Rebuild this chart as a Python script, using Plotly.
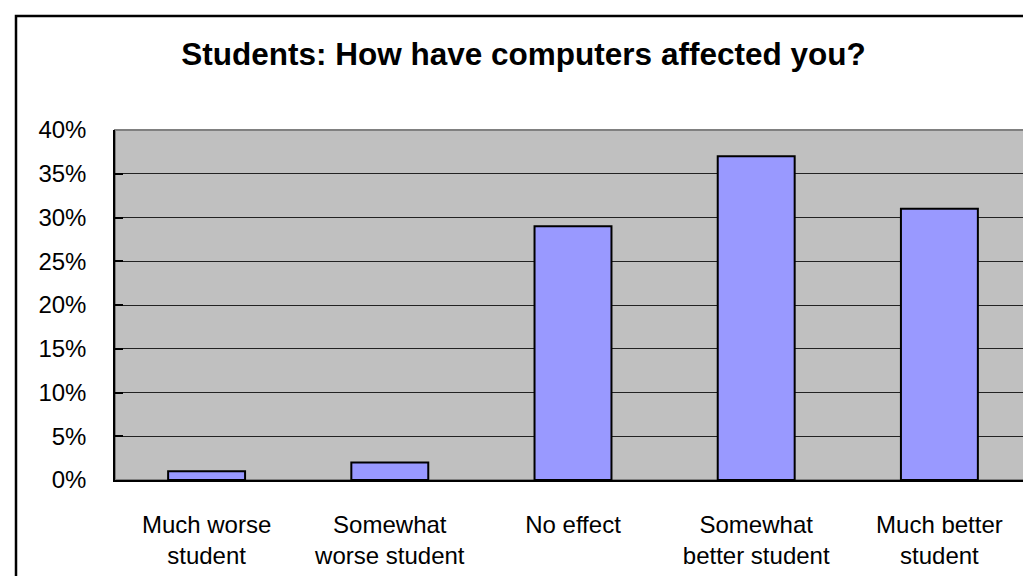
import plotly.graph_objects as go

categories = ["Much worse<br>student", "Somewhat<br>worse student", "No effect",
              "Somewhat<br>better student", "Much better<br>student"]
values = [0.01, 0.02, 0.29, 0.37, 0.31]
tick_vals = [0, 0.05, 0.10, 0.15, 0.20, 0.25, 0.30, 0.35, 0.40]
tick_text = ["0%", "5%", "10%", "15%", "20%", "25%", "30%", "35%", "40%"]
title_text = "Students: How have computers affected you?"

FONT = "Liberation Sans, Arial, sans-serif"

fig = go.Figure()
fig.add_trace(go.Bar(
    x=categories, y=values,
    marker=dict(color="#9999FF", line=dict(color="#000000", width=2)),
    hoverinfo="skip",
))

L, R, T, B = 107, 8, 122, 104
W, H = 1031, 576
pw, ph = W - L - R, H - T - B

fig.update_layout(
    width=W, height=H,
    margin=dict(l=L, r=R, t=T, b=B, pad=0),
    paper_bgcolor="white",
    plot_bgcolor="#C0C0C0",
    bargap=0.58,
    showlegend=False,
    font=dict(family=FONT, color="black", size=24),
    title=dict(text="<b>" + title_text + "</b>", x=0.5, xref="container",
               xanchor="center", y=1 - 46 / H, yanchor="middle",
               font=dict(family=FONT, size=31.5, color="black")),
    xaxis=dict(showgrid=False, showline=True, linecolor="black", linewidth=1.5,
               ticks="", tickfont=dict(size=24), ticklabelstandoff=22,
               fixedrange=True),
    yaxis=dict(range=[0, 0.40], tickvals=tick_vals, ticktext=tick_text,
               showgrid=True, gridcolor="#222222", gridwidth=1,
               showline=True, linecolor="black", linewidth=1.5,
               ticks="inside", ticklen=8, tickcolor="black", tickwidth=1.5,
               tickfont=dict(size=24), ticklabelstandoff=22,
               zeroline=False, fixedrange=True),
    shapes=[
        # gray plot-area frame (top/right)
        dict(type="rect", xref="paper", yref="paper", x0=0, x1=1, y0=0, y1=1,
             line=dict(color="#808080", width=2), layer="below"),
        # outer chart border
        dict(type="rect", xref="paper", yref="paper",
             x0=(8 - L) / pw, x1=(W + 10 - L) / pw,
             y0=(H - B - (H + 10)) / ph, y1=(H - B - 8) / ph,
             line=dict(color="black", width=2.5), layer="above"),
    ],
)

fig.write_html("out.html")
